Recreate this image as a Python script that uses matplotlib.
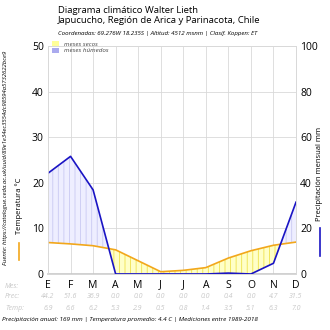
import numpy as np
import matplotlib
matplotlib.use("Agg")
import matplotlib.pyplot as plt
from matplotlib.patches import Patch

plt.rcParams['font.family'] = ['Open Sans', 'DejaVu Sans']
plt.rcParams['hatch.linewidth'] = 0.6

# datos
meses = ["E", "F", "M", "A", "M", "J", "J", "A", "S", "O", "N", "D"]
prec = [44.2, 51.6, 36.9, 0.0, 0.0, 0.0, 0.0, 0.0, 0.4, 0.0, 4.7, 31.5]
temp = [6.9, 6.6, 6.2, 5.3, 2.9, 0.5, 0.8, 1.4, 3.5, 5.1, 6.3, 7.0]

titulo = "Diagrama climático Walter Lieth\nJapucucho, Región de Arica y Parinacota, Chile"
subtitulo = "Coordenadas: 69.276W 18.235S | Altitud: 4512 msnm | Clasif. Koppen: ET"
pie = "Precipitación anual: 169 mm | Temperatura promedio: 4.4 C | Mediciones entre 1989-2018"
fuente = "Fuente: https://catalogue.ceda.ac.uk/uuid/89e1e34ec3554dc98594a5732622bce9"

c_temp = "#f2a71b"
c_prec = "#1a14c4"
gris = "#d9d9d9"

x = np.arange(len(meses))
t = np.array(temp)
p2 = np.array(prec) / 2.0  # escala 20 mm = 10 C

fig = plt.figure(figsize=(3.3, 3.3), dpi=100)
ax = fig.add_axes([48/330, 1-274/330, 248/330, 228/330])
ax2 = ax.twinx()

# relleno seco / humedo
ax.fill_between(x, t, p2, where=t >= p2, interpolate=True, facecolor="#ffffc8",
                edgecolor="#efe24a", hatch="|||", linewidth=0, zorder=1)
ax.fill_between(x, t, p2, where=p2 >= t, interpolate=True, facecolor="#eeeeff",
                edgecolor="#c9c9f2", hatch="|||", linewidth=0, zorder=1)

ax.plot(x, t, color=c_temp, lw=1.2, zorder=3)
ax.plot(x, p2, color=c_prec, lw=1.2, zorder=4)

ax.set_xlim(0, 11)
ax.set_ylim(0, 50)
ax2.set_ylim(0, 100)
ax.set_yticks(np.arange(0, 51, 10))
ax2.set_yticks(np.arange(0, 101, 20))
ax.set_xticks(x)
ax.set_xticklabels(meses, fontsize=7)
ax.grid(True, color=gris, lw=0.6, zorder=0)
ax.set_axisbelow(True)
for a in (ax, ax2):
    for s in a.spines.values():
        s.set_color(gris)
        s.set_linewidth(0.6)
    a.tick_params(length=0, labelsize=7.5, pad=3)
ax.spines['bottom'].set_color("#c8c8c8")
ax.spines['bottom'].set_linewidth(1.2)
ax.tick_params(axis='x', pad=4)

# etiquetas de ejes
ax.text(-0.115, 0.3, "Temperatura °C", rotation=90, fontsize=5.5,
        transform=ax.transAxes, ha='center', va='center')
ax.plot([-0.115, -0.115], [0.06, 0.135], color=c_temp, lw=1.2,
        transform=ax.transAxes, clip_on=False)
ax2.text(1.095, 0.44, "Precipitación mensual mm", rotation=90, fontsize=5.5,
         transform=ax2.transAxes, ha='center', va='center')
ax2.plot([1.095, 1.095], [0.08, 0.2], color=c_prec, lw=1.2,
         transform=ax2.transAxes, clip_on=False)

# leyenda
handles = [Patch(facecolor="#ffff99", edgecolor="none", label="meses secos"),
           Patch(facecolor="#aaaaee", edgecolor="none", label="meses húmedos")]
leg = ax.legend(handles=handles, loc='upper left', bbox_to_anchor=(0.0, 1.04),
                frameon=False, fontsize=4.5, handlelength=1.0, handleheight=0.9,
                handletextpad=0.8, labelspacing=0.1, borderaxespad=0.3)
for txt in leg.get_texts():
    txt.set_fontstyle('italic')
    txt.set_color("#444444")

# filas de tabla
tr = ax.get_xaxis_transform()
fila_y = [(274 - 286) / 228, (274 - 297) / 228, (274 - 308) / 228]
for nombre, yy in zip(["Mes:", "Prec:", "Temp:"], fila_y):
    fig.text(5/330, (330 - 274) / 330 + yy * 228 / 330, nombre, fontsize=5,
             style='italic', color="#c8c8c8", va='center')
for i in range(len(meses)):
    ax.text(x[i], fila_y[1], "%.1f" % prec[i], transform=tr, fontsize=5,
            style='italic', color="#c8c8c8", ha='center', va='center')
    ax.text(x[i], fila_y[2], "%.1f" % temp[i], transform=tr, fontsize=5,
            style='italic', color="#c8c8c8", ha='center', va='center')

# titulos
fig.text(58/330, 1 - 6/330, titulo, fontsize=6.8, va='top', ha='left',
         linespacing=1.15)
fig.text(58/330, 1 - 34/330, subtitulo, fontsize=4.4, va='center', ha='left',
         style='italic')
fig.text(2/330, 1 - 320/330, pie, fontsize=4.6, va='center', ha='left',
         style='italic')
fig.text(6/330, 1 - 158/330, fuente, fontsize=4.3, va='center', ha='center',
         rotation=90, style='italic')

fig.savefig("out.png", dpi=100)
